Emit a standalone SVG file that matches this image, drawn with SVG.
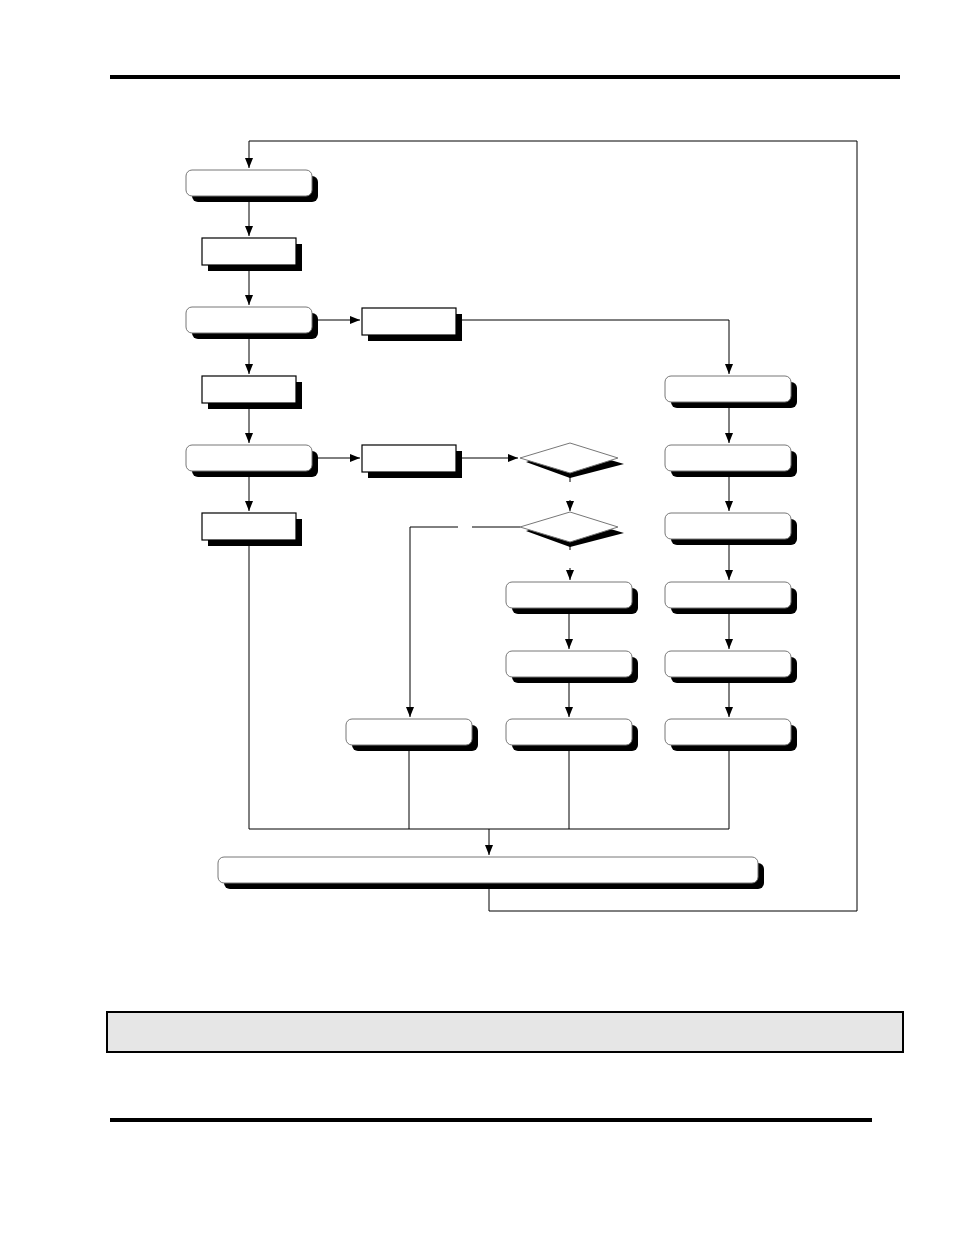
<svg xmlns="http://www.w3.org/2000/svg" width="954" height="1235" viewBox="0 0 954 1235">
<style>
.r{fill:#fff;stroke:#777;stroke-width:1}
.b{fill:#fff;stroke:#000;stroke-width:1.2}
.s{fill:#000}
.c{fill:none;stroke:#000;stroke-width:1}
</style>
<defs>
<marker id="a" markerWidth="10" markerHeight="8" refX="10" refY="4" orient="auto" markerUnits="userSpaceOnUse"><path d="M0,0L10,4L0,8z"/></marker>
<g id="rb"><rect class="s" x="6" y="6" width="126" height="26" rx="6"/><rect class="r" x="0" y="0" width="126" height="26" rx="6"/></g>
<g id="sb"><rect class="s" x="6" y="6" width="94" height="27"/><rect class="b" x="0" y="0" width="94" height="27"/></g>
<g id="dm"><polygon class="s" points="526,462 570,448 624,464 570,478"/><polygon class="r" points="520,458 570,443 618,458 570,473"/></g>
</defs>
<rect x="110" y="75" width="790" height="4" fill="#000"/>
<rect x="110" y="1118" width="762" height="4" fill="#000"/>
<rect x="107" y="1012" width="796" height="40" fill="#e6e6e6" stroke="#000" stroke-width="2"/>
<g id="connectors" class="c">
<path class="c" d="M249,195V236" marker-end="url(#a)"/>
<path class="c" d="M249,265V305" marker-end="url(#a)"/>
<path class="c" d="M249,333V374" marker-end="url(#a)"/>
<path class="c" d="M249,403V443" marker-end="url(#a)"/>
<path class="c" d="M249,471V511" marker-end="url(#a)"/>
<path class="c" d="M312,320H360" marker-end="url(#a)"/>
<path class="c" d="M456,320H729V374" marker-end="url(#a)"/>
<path class="c" d="M312,458H360" marker-end="url(#a)"/>
<path class="c" d="M456,458H518" marker-end="url(#a)"/>
<path class="c" d="M729,402V443" marker-end="url(#a)"/>
<path class="c" d="M729,471V511" marker-end="url(#a)"/>
<path class="c" d="M729,539V580" marker-end="url(#a)"/>
<path class="c" d="M729,608V649" marker-end="url(#a)"/>
<path class="c" d="M729,677V717" marker-end="url(#a)"/>
<path class="c" d="M570,473V482"/>
<path class="c" d="M570,500V511" marker-end="url(#a)"/>
<path class="c" d="M570,541V550"/>
<path class="c" d="M570,568V580" marker-end="url(#a)"/>
<path class="c" d="M569,608V649" marker-end="url(#a)"/>
<path class="c" d="M569,677V717" marker-end="url(#a)"/>
<path class="c" d="M520,527H472"/>
<path class="c" d="M458,527H410V717" marker-end="url(#a)"/>
<path class="c" d="M249,540V829H729V745"/>
<path class="c" d="M409,745V829"/>
<path class="c" d="M569,745V829"/>
<path class="c" d="M489,829V855" marker-end="url(#a)"/>
<path class="c" d="M489,883V911H857V141H249V168" marker-end="url(#a)"/>
</g>
<g id="n1"><use href="#rb" x="186" y="170"/></g>
<g id="n2"><use href="#sb" x="202" y="238"/></g>
<g id="n3"><use href="#rb" x="186" y="307"/></g>
<g id="n4"><use href="#sb" x="362" y="308"/></g>
<g id="n5"><use href="#sb" x="202" y="376"/></g>
<g id="n6"><use href="#rb" x="186" y="445"/></g>
<g id="n7"><use href="#sb" x="362" y="445"/></g>
<g id="n8"><use href="#sb" x="202" y="513"/></g>
<g id="d1"><use href="#dm"/></g>
<g id="d2"><use href="#dm" y="69"/></g>
<g id="r1"><use href="#rb" x="665" y="376"/></g>
<g id="r2"><use href="#rb" x="665" y="445"/></g>
<g id="r3"><use href="#rb" x="665" y="513"/></g>
<g id="r4"><use href="#rb" x="665" y="582"/></g>
<g id="r5"><use href="#rb" x="665" y="651"/></g>
<g id="r6"><use href="#rb" x="665" y="719"/></g>
<g id="m1"><use href="#rb" x="506" y="582"/></g>
<g id="m2"><use href="#rb" x="506" y="651"/></g>
<g id="m3"><use href="#rb" x="506" y="719"/></g>
<g id="l1"><use href="#rb" x="346" y="719"/></g>
<g id="big"><rect class="s" x="224" y="863" width="540" height="26" rx="6"/><rect class="r" x="218" y="857" width="540" height="26" rx="6"/></g>
</svg>
